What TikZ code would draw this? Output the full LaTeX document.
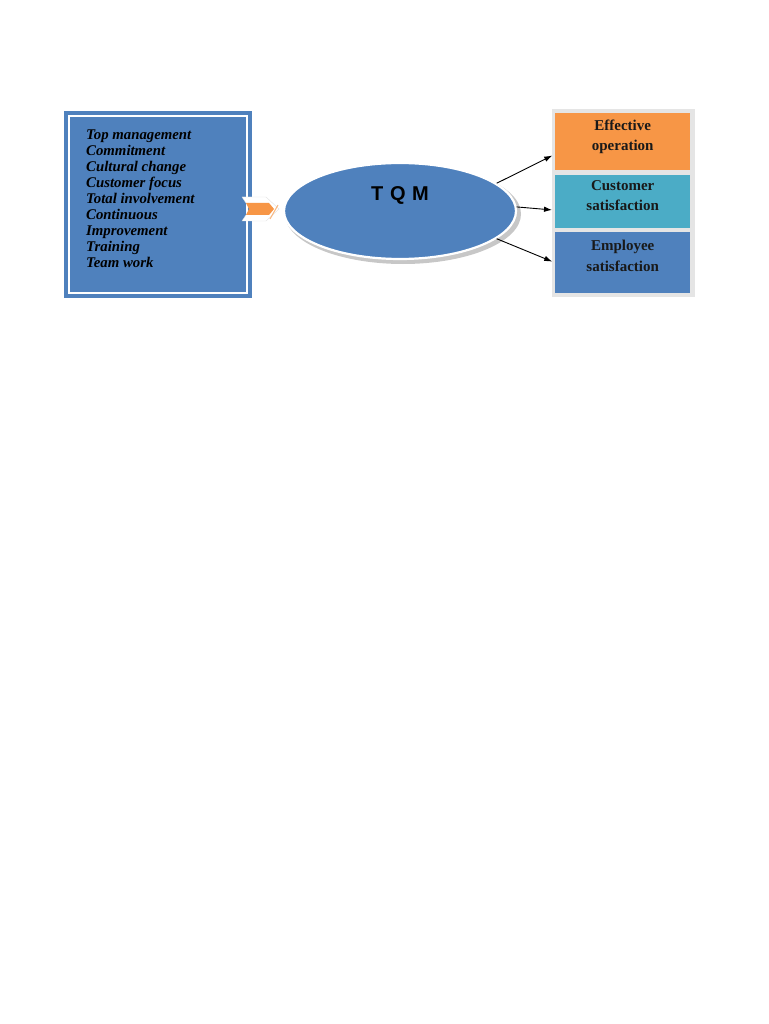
\documentclass[tikz,border=0pt]{standalone}
\usepackage{fontspec}
\newfontfamily\resultfont{Liberation Serif}
\newfontfamily\tqmfont{Liberation Sans}
\usetikzlibrary{shapes.geometric,arrows.meta}
\definecolor{boxblue}{HTML}{4F81BD}
\definecolor{boxorange}{HTML}{F79646}
\definecolor{boxcyan}{HTML}{4BACC6}
\tikzset{
	resultbox/.style={minimum width=135pt, inner sep=0pt, anchor=north west},
	resulttext/.style={align=center, inner sep=0pt, font=\resultfont\bfseries\fontsize{15}{20.5}\selectfont, text=black!90},
	link/.style={-{Latex[length=8pt,width=5.5pt]}, line width=0.9pt, shorten >=3pt},
}

\begin{document}
\begin{tikzpicture}[x=1pt,y=-1pt]
	\useasboundingbox (0,0) rectangle (768,1024);
	% left box with the factors
	\fill[boxblue] (64,111) rectangle (252,298);
	\draw[white, line width=1.6pt] (69,116) rectangle (247,293);
	\node[anchor=north west, align=left, inner sep=0pt, font=\resultfont\bfseries\itshape\fontsize{14.8}{15.9}\selectfont] (factors) at (86,130) {Top management\\Commitment\\Cultural change\\Customer focus\\Total involvement\\Continuous\\Improvement\\Training\\Team work};
	% small arrow
	\fill[white, draw=black!12] (242,197) -- (266,197) -- (279,209) -- (266,221) -- (242,221) -- (250,209) -- cycle;
	\fill[boxorange] (246,203) -- (269,203) -- (274,209) -- (269,215) -- (246,215) -- (249,209) -- cycle;
	\draw[boxorange!70, line width=1pt] (270,219) -- (278,205);
	% the ellipse
	\fill[black!22] (403,214) ellipse (118 and 50);
	\node[ellipse, draw=white, line width=2.2pt, fill=boxblue, minimum width=232pt, minimum height=96pt] (tqm) at (400,211) {};
	\node[font=\tqmfont\bfseries\fontsize{20}{20}\selectfont] (tqmlabel) at ([yshift=16pt]tqm.center) {T\,\,Q\,\,M};
	% boxes on the right
	\fill[black!10] (552,109) rectangle (695,297);
	\node[resultbox, fill=boxorange, minimum height=57pt] (effop) at (555,113) {};
	\node[resultbox, fill=boxcyan, minimum height=53pt] (custsat) at (555,175) {};
	\node[resultbox, fill=boxblue, minimum height=61pt] (empsat) at (555,232) {};
	\node[resulttext] (effoptext) at ([yshift=5pt]effop.center) {Effective\\operation};
	\node[resulttext] (custsattext) at ([yshift=6pt]custsat.center) {Customer\\satisfaction};
	\node[resulttext] (empsattext) at ([yshift=7pt]empsat.center) {Employee\\satisfaction};
	% arrows
	\draw[link] (tqm.16) -- ([yshift=-12.5pt]effop.west);
	\draw[link] (tqm.2) -- ([yshift=-8.5pt]custsat.west);
	\draw[link] (tqm.-16) -- (empsat.west);
\end{tikzpicture}
\end{document}
